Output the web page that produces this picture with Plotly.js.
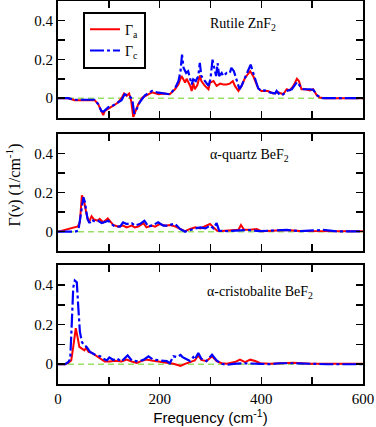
<!DOCTYPE html>
<html><head><meta charset="utf-8">
<script src="https://cdn.plot.ly/plotly-3.0.1.min.js"></script>
<style>html,body{margin:0;padding:0;background:#fff}#plot{width:376px;height:427px}</style>
</head><body><div id="plot"></div>
<script>
// Panel 1: Rutile ZnF2
const znA_f = [0,20,33,50,72,79,89,92,99,108,118,125,130,135,140,144,148,153,158,166,175,185,198,208,220,230,237,243,246,250,253,260,263,266,269,274,279,282,289,296,299,306,312,319,325,332,338,344,348,355,361,368,378,384,388,394,400,405,413,423,433,443,450,456,463,470,474,479,486,496,502,509,515,525,560,600];
const znA_v = [0,0,-0.01,-0.01,-0.01,-0.03,-0.087,-0.065,-0.052,-0.04,-0.022,0,0.025,0.012,0.024,-0.014,-0.098,-0.065,-0.03,0.003,0.015,0.03,0.02,0.024,0.02,0.046,0.071,0.114,0.1,0.08,0.1,0.063,0.037,0.08,0.046,0.066,0.117,0.088,0.063,0.046,0.08,0.088,0.063,0.075,0.071,0.071,0.075,0.088,0.063,0.037,0.063,0.105,0.139,0.114,0.088,0.05,0.037,0.037,0.037,0.024,0.03,0.02,0.046,0.04,0.063,0.1,0.088,0.046,0.046,0.04,0.046,0.015,0.003,0,0,0];
const znC_f = [0,20,33,50,72,79,85,89,99,110,125,131,140,146,150,155,161,171,185,195,208,220,230,237,241,244,247,252,256,260,263,266,271,276,279,282,289,296,300,304,308,311,314,317,322,325,332,338,341,346,351,357,361,371,379,386,394,400,407,417,427,430,437,443,450,460,470,476,483,496,502,511,520,560,600];
const znC_v = [0,0,-0.008,-0.008,-0.008,-0.03,-0.065,-0.07,-0.047,-0.035,-0.01,0.02,0.012,-0.005,-0.08,-0.055,-0.02,0.015,0.037,0.03,0.024,0.02,0.05,0.088,0.139,0.224,0.156,0.13,0.139,0.097,0.071,0.097,0.088,0.114,0.182,0.114,0.088,0.063,0.1,0.198,0.148,0.114,0.18,0.114,0.13,0.114,0.13,0.13,0.156,0.139,0.097,0.046,0.063,0.122,0.173,0.114,0.05,0.037,0.04,0.03,0.024,0.037,0.015,0.02,0.037,0.046,0.083,0.063,0.046,0.046,0.043,0.012,0,0,0];

// Panel 2: alpha-quartz BeF2
const qzA_f = [0,20,30,39,43,47,51,56,61,66,71,78,82,89,98,102,109,119,128,135,145,151,158,168,174,184,191,200,211,220,230,240,250,260,270,280,290,299,306,313,322,338,355,360,366,378,391,401,417,437,450,476,502,529,568,600];
const qzA_v = [0,0.014,0.022,0.027,0.048,0.185,0.16,0.09,0.048,0.079,0.062,0.056,0.065,0.048,0.068,0.056,0.034,0.026,0.031,0.022,0.031,0.022,0.026,0.044,0.022,0.031,0.026,0.039,0.031,0.034,0.027,0.014,0.003,0.014,0.022,0.017,0.027,0.039,0.022,0.005,0.003,0.007,0.01,0.034,0.01,0.01,0.014,0.002,0.005,0.007,0.009,0.003,0.002,0.003,0.002,0.002];
const qzC_f = [0,33,40,45,50,53,58,62,66,73,79,86,92,99,105,112,122,128,135,145,151,161,170,178,187,197,207,215,230,240,250,260,270,280,290,299,306,312,317,332,352,372,398,424,450,476,522,548,600];
const qzC_v = [0,0,0.005,0.08,0.176,0.15,0.065,0.044,0.062,0.051,0.056,0.044,0.048,0.056,0.039,0.027,0.026,0.048,0.039,0.044,0.031,0.039,0.056,0.026,0.034,0.048,0.031,0.031,0.041,0.014,0,0.01,0.017,0.022,0.017,0.031,0.017,0.044,0.005,0.003,0.007,0.009,0.003,0.007,0.009,0.003,0.009,0.002,0.002];

// Panel 3: alpha-cristobalite BeF2
const crA_f = [0,14,20,26,30,35,39,42,47,52,55,60,66,73,79,86,92,102,112,125,135,145,155,165,174,184,197,210,227,237,241,250,260,269,276,282,292,303,312,322,332,348,358,368,378,388,398,417,437,463,496,529,600];
const crA_v = [0,0,0.007,0.019,0.088,0.182,0.13,0.088,0.079,0.07,0.083,0.062,0.058,0.045,0.036,0.024,0.014,0.014,0.017,0.014,0.024,0.014,0.007,0.017,0.024,0.019,0.014,0.01,0.002,-0.005,-0.009,0.002,0.011,0.019,0.045,0.022,0.015,0.04,0.015,0.005,0.002,0.011,0.023,0.011,0.023,0.016,0.005,0.002,0.005,0.007,0.003,0.002,0.002];
const crC_f = [0,14,20,24,27,30,33,37,40,43,47,50,56,63,73,83,89,96,101,109,115,125,137,145,158,168,178,187,201,214,220,227,234,241,245,250,260,266,269,276,282,292,303,312,322,332,345,365,384,398,417,437,463,496,529,600];
const crC_v = [0,0,0.01,0.027,0.2,0.388,0.423,0.414,0.285,0.165,0.113,0.1,0.088,0.062,0.048,0.04,0.028,0.019,0.034,0.022,0.03,0.014,0.045,0.019,0.014,0.022,0.04,0.024,0.019,0.016,0.005,0.04,0.036,0.047,0.036,0.03,0.016,0.036,0.023,0.057,0.028,0.016,0.048,0.019,0.002,-0.003,0.002,0.005,0.005,0.002,0,0.005,0.005,0.002,0,0];

const panelLabels = ['Rutile ZnF<sub>2</sub>', '\u03b1-quartz BeF<sub>2</sub>', '\u03b1-cristobalite BeF<sub>2</sub>'];
const seriesNames = ['\u0393<sub>a</sub>', '\u0393<sub>c</sub>'];
const xTickVals = [0,100,200,300,400,500,600];
const xTickText = ['0','','200','','400','','600'];
const yTickVals = [-0.1,0,0.1,0.2,0.3,0.4,0.5];
const yTickText = ['','0','','0.2','','0.4',''];
const xRange = [0,600];
const yRange = [-0.1,0.5];

const RED = '#ff0000', BLUE = '#0000ff';
const serif = 'Liberation Serif, Times New Roman, serif';
const panels = [[znA_f,znA_v,znC_f,znC_v],[qzA_f,qzA_v,qzC_f,qzC_v],[crA_f,crA_v,crC_f,crC_v]];
const axSuffix = ['', '2', '3'];
const traces = [];
panels.forEach((p,i)=>{
  traces.push({x:p[0], y:p[1], type:'scatter', mode:'lines', name:seriesNames[0],
    xaxis:'x'+axSuffix[i], yaxis:'y'+axSuffix[i], showlegend:i===0,
    line:{color:RED, width:2}});
  traces.push({x:p[2], y:p[3], type:'scatter', mode:'lines', name:seriesNames[1],
    xaxis:'x'+axSuffix[i], yaxis:'y'+axSuffix[i], showlegend:i===0,
    line:{color:BLUE, width:2.2, dash:'14px,3px,3px,3px'}});
});

const domains = [[0.6955,1.0],[0.3465,0.6535],[0,0.3097]];
const layout = {
  width:376, height:427,
  margin:{l:58, r:13, t:1, b:43},
  paper_bgcolor:'#fff', plot_bgcolor:'#fff',
  showlegend:true,
  legend:{x:0.082, y:0.972, xanchor:'left', yanchor:'top', bgcolor:'#fff',
    bordercolor:'#000', borderwidth:2, font:{family:serif, size:14, color:'#000'},
    tracegroupgap:0, itemwidth:30},
  annotations:[], shapes:[]
};
const tickfont = {family:serif, size:15, color:'#000'};
domains.forEach((d,i)=>{
  const s = axSuffix[i];
  layout['xaxis'+s] = {domain:[0,1], range:xRange, anchor:'y'+s,
    tickmode:'array', tickvals:xTickVals, ticktext:xTickText,
    showticklabels:i===2, ticks:'inside', ticklen:7, tickwidth:1.5, tickcolor:'#000',
    showline:true, linewidth:2, linecolor:'#000', mirror:'ticks',
    showgrid:false, zeroline:false, tickfont:tickfont};
  layout['yaxis'+s] = {domain:d, range:yRange, anchor:'x'+s,
    tickmode:'array', tickvals:yTickVals, ticktext:yTickText,
    ticks:'inside', ticklen:7, tickwidth:1.5, tickcolor:'#000',
    showline:true, linewidth:2, linecolor:'#000', mirror:'ticks',
    showgrid:false, zeroline:false, tickfont:tickfont};
  layout.shapes.push({type:'line', xref:'x'+s, yref:'y'+s, x0:xRange[0], x1:xRange[1], y0:0, y1:0,
    layer:'below', line:{color:'#99e066', width:1.5, dash:'6px,4px'}});
});
layout.xaxis3.title = {text:'Frequency (cm<sup>-1</sup>)', font:{family:'Liberation Sans, Arial, sans-serif', size:15, color:'#000'}, standoff:4};
const labelPos = [[364,0.377],[377,0.39],[397,0.363]];
panelLabels.forEach((t,i)=>{
  layout.annotations.push({text:t, xref:'x'+axSuffix[i], yref:'y'+axSuffix[i],
    x:labelPos[i][0], y:labelPos[i][1], showarrow:false,
    font:{family:serif, size:14, color:'#000'}});
});
layout.annotations.push({text:'\u0393(\u03bd) (1/cm<sup>-1</sup>)', xref:'paper', yref:'paper',
  x:-0.145, y:0.52, xanchor:'center', yanchor:'middle', textangle:-90, showarrow:false,
  font:{family:serif, size:16, color:'#000'}});

Plotly.newPlot('plot', traces, layout, {displayModeBar:false, staticPlot:true});
</script></body></html>
